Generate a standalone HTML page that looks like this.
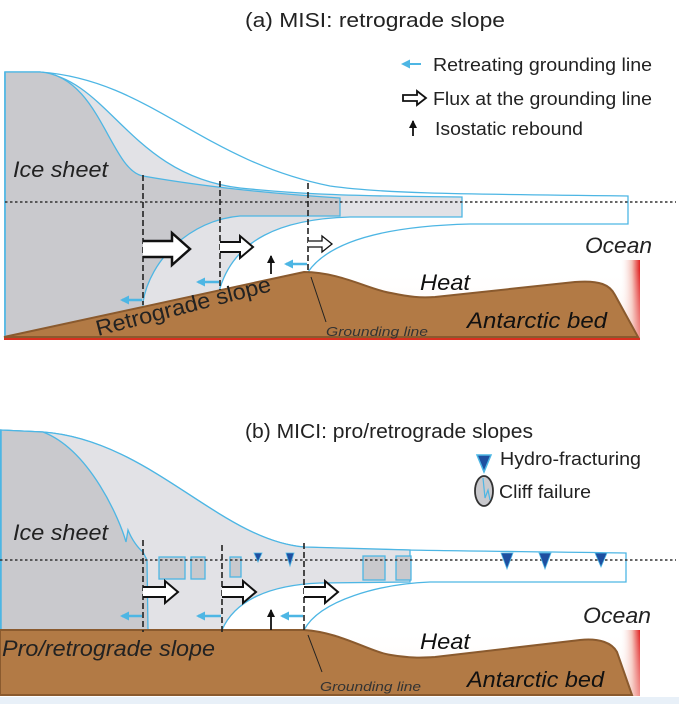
<!DOCTYPE html>
<html><head><meta charset="utf-8"><style>
html,body{margin:0;padding:0;background:#fff;}
svg{display:block;}
text{font-family:"Liberation Sans",Arial,sans-serif;}
.it{font-style:italic;}
</style></head><body>
<svg width="679" height="704" viewBox="0 0 679 704" xmlns="http://www.w3.org/2000/svg">
<defs>
<linearGradient id="heat" x1="0" y1="0" x2="1" y2="0">
<stop offset="0" stop-color="#fff" stop-opacity="0"/><stop offset="0.6" stop-color="#f4c0b8"/><stop offset="1" stop-color="#e02020"/></linearGradient>
<linearGradient id="heatv" x1="0" y1="0" x2="0" y2="1">
<stop offset="0" stop-color="#fff" stop-opacity="0"/><stop offset="1" stop-color="#f8d8d0"/></linearGradient>
<marker id="bh" markerUnits="userSpaceOnUse" markerWidth="9" markerHeight="9" refX="2" refY="4.5" orient="auto"><path d="M0,4.5 L9,0 L9,9z" fill="#4db6e4"/></marker>
<marker id="kh" markerUnits="userSpaceOnUse" markerWidth="8" markerHeight="9" refX="7" refY="4" orient="auto"><path d="M0,0 L8,4 L0,8z" fill="#111"/></marker>
</defs>

<!-- ===== Panel a ===== -->
<text x="245" y="27" font-size="20" textLength="260" lengthAdjust="spacingAndGlyphs" fill="#222">(a) MISI: retrograde slope</text>
<rect x="620" y="260" width="20" height="78" fill="url(#heat)"/>
<rect x="300" y="270" width="340" height="68" fill="url(#heatv)" opacity="0.6"/>
<path d="M5,72 L40,72 C150,80 200,160 330,186 C380,193 440,194 628,196 L628,224 L470,224 C390,226 330,240 308,272 L308,337 L5,337 Z" fill="#fff" stroke="#4db6e4" stroke-width="1.3"/>
<path d="M5,72 L40,72 C110,80 130,175 240,188 C290,193 330,196 462,197 L462,217 L350,217 C280,219 235,240 220,288 L220,337 L5,337 Z" fill="#e2e2e6" stroke="#4db6e4" stroke-width="1.3"/>
<path d="M5,72 L40,72 C100,76 110,170 143,176 C200,186 260,193 340,198 L340,216 L240,216 C190,220 150,260 143,302 L143,337 L5,337 Z" fill="#c9c9cd" stroke="#4db6e4" stroke-width="1.3"/>
<line x1="5" y1="72" x2="5" y2="335" stroke="#4db6e4" stroke-width="1.5"/>
<path d="M4,337 L304,272 C340,272 370,290 391,293 C410,297 420,298 435,297 L575,282 C600,280 610,285 615,295 L638,337 Z" fill="#b27a45" stroke="#8a5a2e" stroke-width="2"/>
<line x1="4" y1="339" x2="640" y2="339" stroke="#d83020" stroke-width="2"/>
<line x1="5" y1="202" x2="676" y2="202" stroke="#333" stroke-width="1.5" stroke-dasharray="2.5,2.5"/>
<g stroke="#222" stroke-width="1.6" stroke-dasharray="6,3">
<line x1="143" y1="175" x2="143" y2="305"/><line x1="220" y1="181" x2="220" y2="290"/><line x1="308" y1="183" x2="308" y2="273"/></g>
<path d="M143,241 L172,241 L172,233 L190,249 L172,265 L172,257 L143,257" fill="#fff" stroke="#111" stroke-width="2.5"/>
<path d="M220,242 L240,242 L240,236 L253,247 L240,258 L240,252 L220,252" fill="#fff" stroke="#111" stroke-width="2"/>
<path d="M308,241 L322,241 L322,236 L332,244 L322,252 L322,247 L308,247" fill="#fff" stroke="#111" stroke-width="1.3"/>
<g stroke="#4db6e4" stroke-width="2.5" marker-start="url(#bh)">
<line x1="122" y1="300" x2="142" y2="300"/><line x1="198" y1="282" x2="219" y2="282"/><line x1="286" y1="264" x2="307" y2="264"/></g>
<line x1="271" y1="274" x2="271" y2="256" stroke="#111" stroke-width="1.8" marker-end="url(#kh)"/>
<line x1="311" y1="277" x2="326" y2="322" stroke="#222" stroke-width="1"/>
<text x="13" y="177" font-size="22" textLength="95" lengthAdjust="spacingAndGlyphs" class="it" fill="#222">Ice sheet</text>
<text x="585" y="253" font-size="22" textLength="67" lengthAdjust="spacingAndGlyphs" class="it" fill="#222">Ocean</text>
<text x="420" y="290" font-size="22" textLength="50" lengthAdjust="spacingAndGlyphs" class="it" fill="#111">Heat</text>
<text x="467" y="328" font-size="22" textLength="140" lengthAdjust="spacingAndGlyphs" class="it" fill="#111">Antarctic bed</text>
<text x="326" y="336" font-size="13" textLength="102" lengthAdjust="spacingAndGlyphs" class="it" fill="#333">Grounding line</text>
<text transform="translate(98,336) rotate(-14.5)" font-size="22" textLength="180" lengthAdjust="spacingAndGlyphs" fill="#222">Retrograde slope</text>
<line x1="403" y1="64" x2="421" y2="64" stroke="#4db6e4" stroke-width="2" marker-start="url(#bh)"/>
<text x="433" y="71" font-size="18" textLength="219" lengthAdjust="spacingAndGlyphs" fill="#222">Retreating grounding line</text>
<path d="M403,95 L417,95 L417,91 L426,98 L417,105 L417,101 L403,101 Z" fill="#fff" stroke="#111" stroke-width="1.8"/>
<text x="433" y="105" font-size="18" textLength="219" lengthAdjust="spacingAndGlyphs" fill="#222">Flux at the grounding line</text>
<line x1="413" y1="136" x2="413" y2="121" stroke="#111" stroke-width="1.8" marker-end="url(#kh)"/>
<text x="435" y="135" font-size="18" textLength="148" lengthAdjust="spacingAndGlyphs" fill="#222">Isostatic rebound</text>

<!-- ===== Panel b ===== -->
<text x="245" y="438" font-size="20" textLength="288" lengthAdjust="spacingAndGlyphs" fill="#222">(b) MICI: pro/retrograde slopes</text>
<rect x="620" y="630" width="20" height="66" fill="url(#heat)"/>
<rect x="300" y="630" width="340" height="66" fill="url(#heatv)" opacity="0.6"/>
<path d="M0,430 L43,432 C150,440 220,540 304,547 C400,551 500,551 626,553 L626,582 L430,582 C380,584 320,600 304,630 L304,694 L0,694 Z" fill="#fff" stroke="#4db6e4" stroke-width="1.3"/>
<path d="M0,430 L43,432 C150,440 220,540 304,547 L410,550 L410,582 L320,583 C270,585 235,600 222,630 L222,694 L0,694 Z" fill="#e2e2e6" stroke="#4db6e4" stroke-width="1.3"/>
<path d="M0,430 L43,432 C90,450 120,520 126,542 L128,530 C132,540 138,548 143,552 L147,560 L148,630 L0,630 Z" fill="#c9c9cd" stroke="#4db6e4" stroke-width="1.3"/>
<line x1="1" y1="430" x2="1" y2="630" stroke="#4db6e4" stroke-width="1.5"/>
<g fill="#c9c9cd" stroke="#4db6e4" stroke-width="1.3">
<rect x="159" y="557" width="26" height="22"/><rect x="191" y="557" width="14" height="22"/><rect x="230" y="557" width="11" height="20"/>
<rect x="363" y="556" width="22" height="24"/><rect x="396" y="556" width="15" height="24"/></g>
<path d="M0,630 L304,630 C340,632 370,652 391,655 C410,658 420,658 435,657 L580,640 C600,638 612,643 617,652 L632,695 L0,695 Z" fill="#b27a45" stroke="#8a5a2e" stroke-width="2"/>
<line x1="0" y1="560" x2="676" y2="560" stroke="#333" stroke-width="1.5" stroke-dasharray="2.5,2.5"/>
<g fill="#1e4fa0" stroke="#4db6e4" stroke-width="0.8">
<path d="M254,553 L262,553 L258,562Z"/><path d="M286,553 L294,553 L290,566Z"/><path d="M501,553 L513,553 L507,569Z"/><path d="M539,553 L551,553 L545,569Z"/><path d="M595,553 L607,553 L601,567Z"/></g>
<g stroke="#222" stroke-width="1.6" stroke-dasharray="6,3">
<line x1="143" y1="540" x2="143" y2="632"/><line x1="222" y1="545" x2="222" y2="632"/><line x1="304" y1="543" x2="304" y2="632"/></g>
<path d="M143,587 L165,587 L165,581 L178,592 L165,603 L165,597 L143,597" fill="#fff" stroke="#111" stroke-width="2"/>
<path d="M222,587 L243,587 L243,581 L256,592 L243,603 L243,597 L222,597" fill="#fff" stroke="#111" stroke-width="2"/>
<path d="M304,587 L325,587 L325,581 L338,592 L325,603 L325,597 L304,597" fill="#fff" stroke="#111" stroke-width="2"/>
<g stroke="#4db6e4" stroke-width="2.5" marker-start="url(#bh)">
<line x1="122" y1="616" x2="142" y2="616"/><line x1="198" y1="616" x2="221" y2="616"/><line x1="282" y1="616" x2="303" y2="616"/></g>
<line x1="271" y1="630" x2="271" y2="610" stroke="#111" stroke-width="1.8" marker-end="url(#kh)"/>
<line x1="308" y1="635" x2="322" y2="672" stroke="#222" stroke-width="1"/>
<text x="13" y="540" font-size="22" textLength="95" lengthAdjust="spacingAndGlyphs" class="it" fill="#222">Ice sheet</text>
<text x="583" y="623" font-size="22" textLength="68" lengthAdjust="spacingAndGlyphs" class="it" fill="#222">Ocean</text>
<text x="420" y="649" font-size="22" textLength="50" lengthAdjust="spacingAndGlyphs" class="it" fill="#111">Heat</text>
<text x="467" y="687" font-size="22" textLength="137" lengthAdjust="spacingAndGlyphs" class="it" fill="#111">Antarctic bed</text>
<text x="320" y="691" font-size="13" textLength="101" lengthAdjust="spacingAndGlyphs" class="it" fill="#333">Grounding line</text>
<text x="2" y="656" font-size="22" textLength="213" lengthAdjust="spacingAndGlyphs" class="it" fill="#222">Pro/retrograde slope</text>
<path d="M477,455 L491,455 L484,472Z" fill="#1e4fa0" stroke="#4db6e4" stroke-width="1.5"/>
<text x="500" y="465" font-size="18" textLength="141" lengthAdjust="spacingAndGlyphs" fill="#222">Hydro-fracturing</text>
<ellipse cx="484" cy="491" rx="9" ry="15" fill="#c9c9cd" stroke="#333" stroke-width="1.8"/>
<path d="M483,478 L485,498 L488,490 L490,500" fill="none" stroke="#4db6e4" stroke-width="1.2"/>
<text x="499" y="498" font-size="18" textLength="92" lengthAdjust="spacingAndGlyphs" fill="#222">Cliff failure</text>
<rect x="0" y="697" width="679" height="7" fill="#e8f0f8"/>
</svg>
</body></html>
